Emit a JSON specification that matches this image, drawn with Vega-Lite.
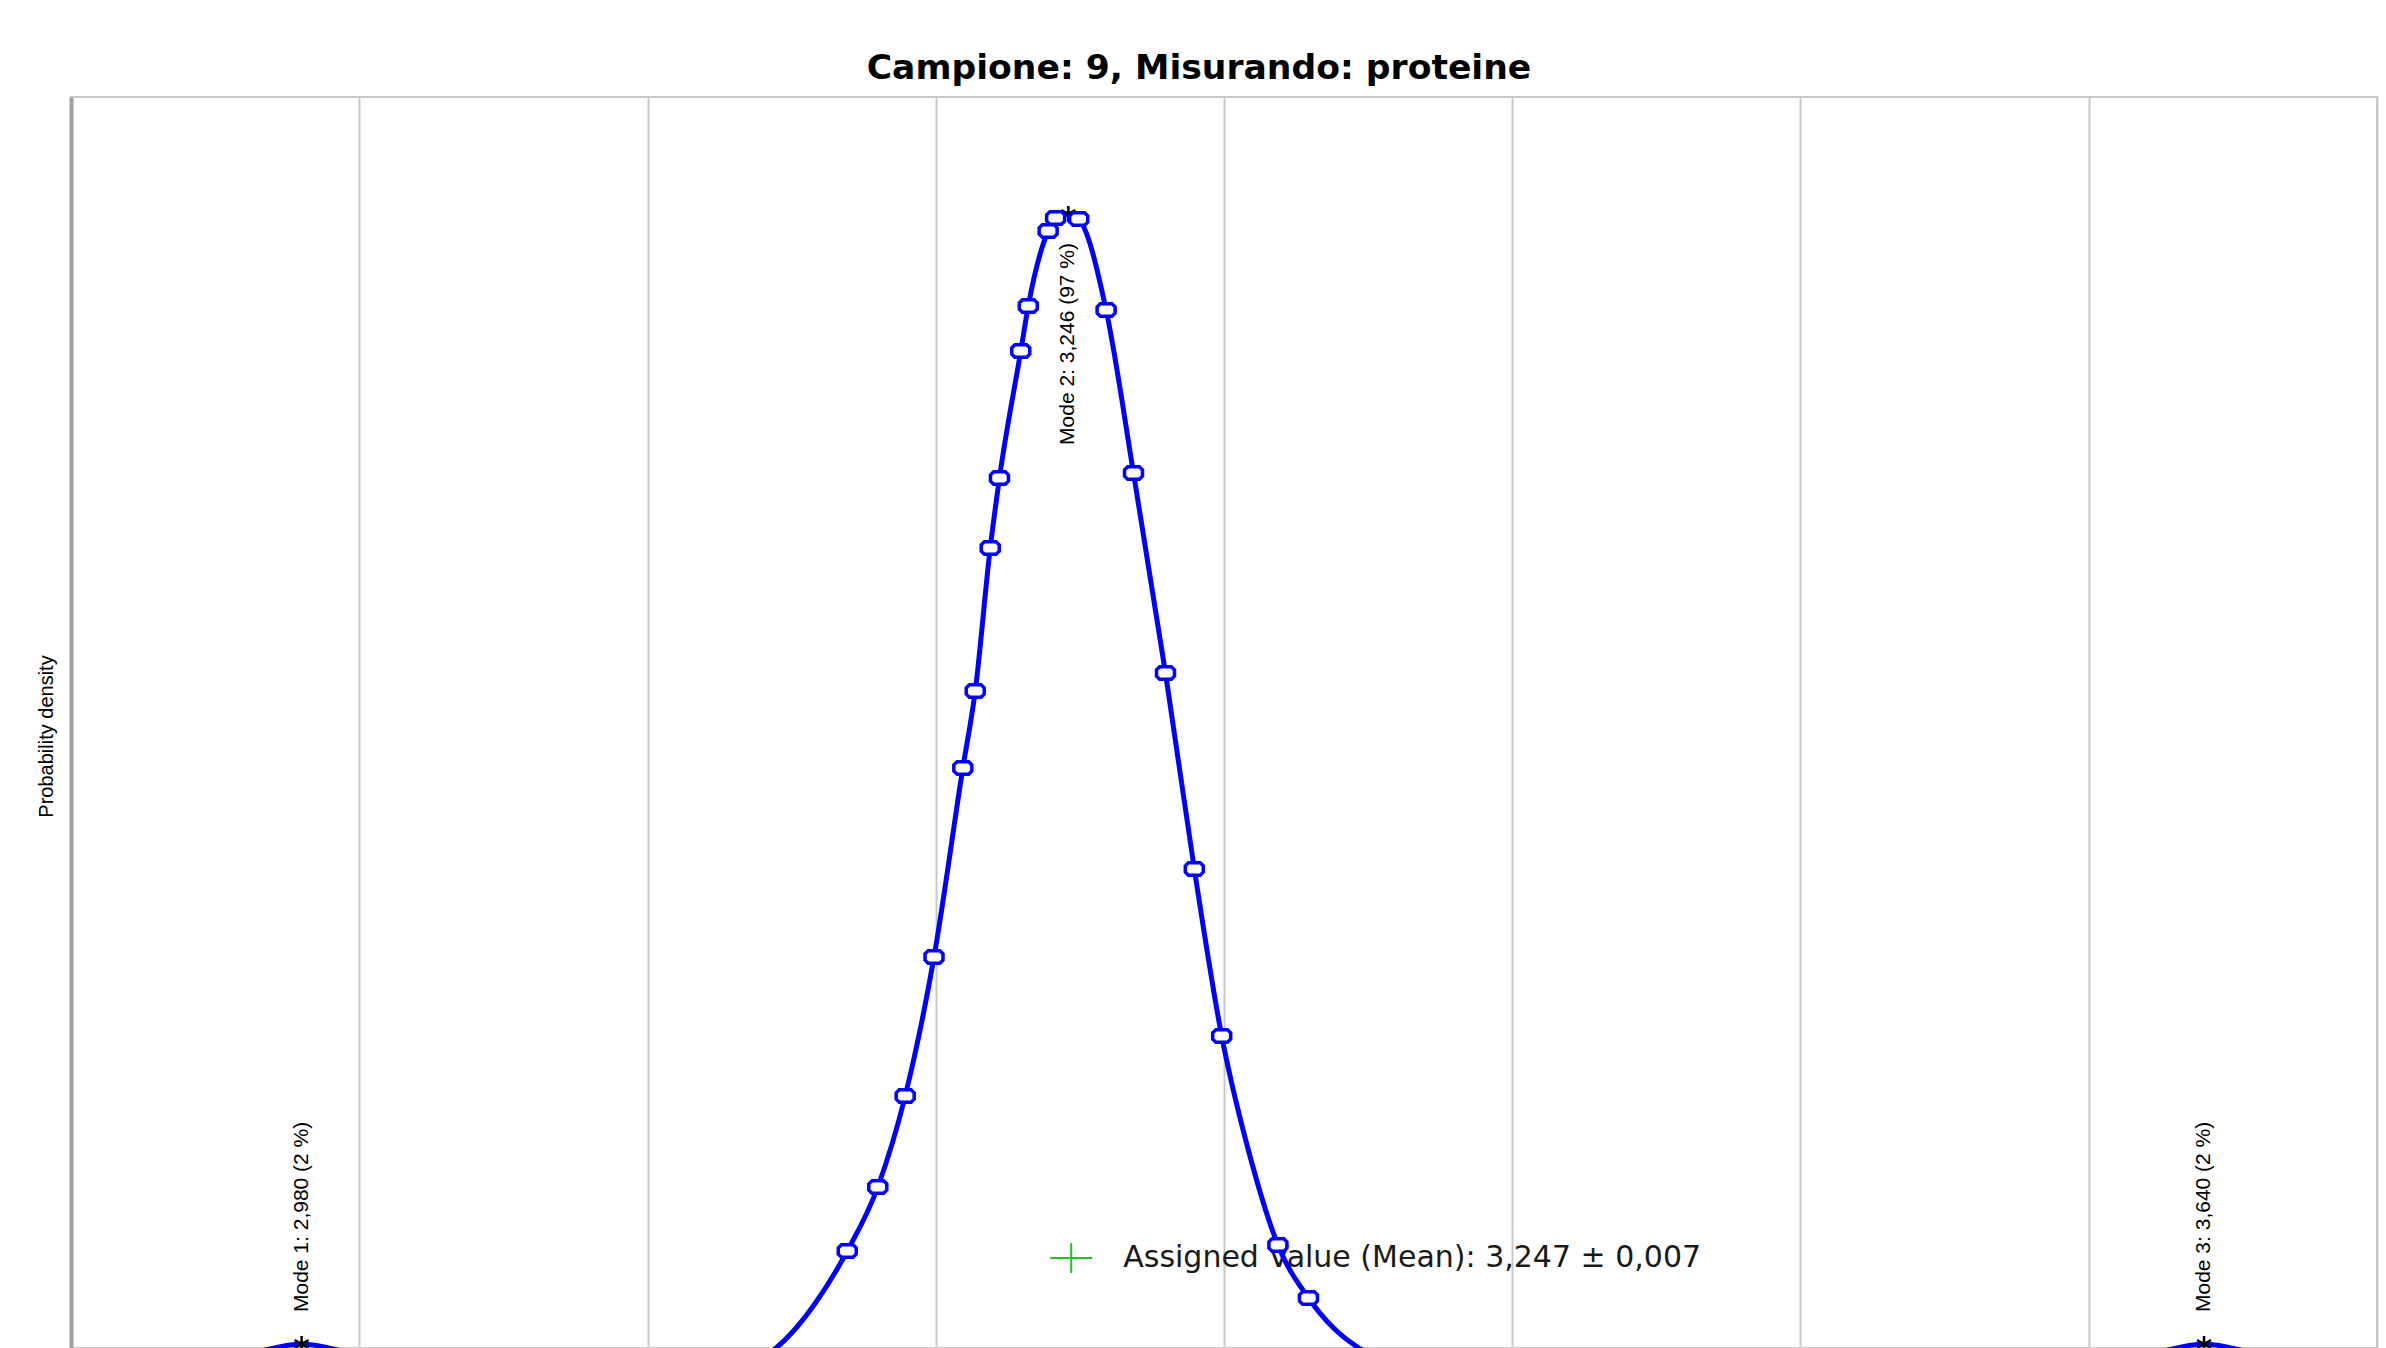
{
  "$schema": "https://vega.github.io/schema/vega-lite/v6.json",
  "autosize": {"type": "none"},
  "padding": {"left": 71, "top": 97, "right": 9, "bottom": 0},
  "width": 2306,
  "height": 1251,
  "background": "white",
  "title": {
    "text": "Campione: 9, Misurando: proteine",
    "font": "DejaVu Sans",
    "fontSize": 34.6,
    "fontWeight": "bold",
    "color": "black",
    "anchor": "middle",
    "dx": -25,
    "dy": 35,
    "offset": 18,
    "baseline": "alphabetic"
  },
  "config": {
    "view": {"stroke": "#c8c8c8", "strokeWidth": 2},
    "axisX": {
      "grid": true, "gridColor": "#c8c8c8", "gridWidth": 2, "gridOpacity": 1,
      "labels": false, "ticks": false, "domain": false, "title": null
    },
    "axisY": {
      "grid": false, "labels": false, "ticks": false,
      "domain": true, "domainColor": "#a0a0a0", "domainWidth": 4,
      "titleFont": "Liberation Sans", "titleFontSize": 20, "titleFontWeight": "normal",
      "titleColor": "black", "titleX": -25, "titleY": 639, "titleAngle": 270,
      "titleAlign": "center", "titleBaseline": "middle"
    }
  },
  "datasets": {
    "curve": [
      {"x": 2.900, "d": 0.00}, {"x": 2.925, "d": 0.01}, {"x": 2.940, "d": 0.04},
      {"x": 2.955, "d": 0.14}, {"x": 2.9675, "d": 0.26}, {"x": 2.980, "d": 0.32},
      {"x": 2.9925, "d": 0.26}, {"x": 3.005, "d": 0.14}, {"x": 3.020, "d": 0.05},
      {"x": 3.040, "d": 0.015}, {"x": 3.070, "d": 0.01}, {"x": 3.095, "d": 0.015},
      {"x": 3.115, "d": 0.03}, {"x": 3.130, "d": 0.07}, {"x": 3.1446, "d": 0.28},
      {"x": 3.150, "d": 0.43}, {"x": 3.158, "d": 0.72}, {"x": 3.1693, "d": 1.25},
      {"x": 3.1799, "d": 1.89}, {"x": 3.1894, "d": 2.80}, {"x": 3.1994, "d": 4.19},
      {"x": 3.2094, "d": 6.08}, {"x": 3.2137, "d": 6.85}, {"x": 3.2189, "d": 8.28},
      {"x": 3.2221, "d": 8.98}, {"x": 3.2295, "d": 10.25}, {"x": 3.2321, "d": 10.70},
      {"x": 3.2390, "d": 11.45}, {"x": 3.2416, "d": 11.58}, {"x": 3.2460, "d": 11.62},
      {"x": 3.2496, "d": 11.57}, {"x": 3.2591, "d": 10.66}, {"x": 3.2686, "d": 9.03},
      {"x": 3.2797, "d": 7.03}, {"x": 3.2897, "d": 5.07}, {"x": 3.2992, "d": 3.40},
      {"x": 3.3090, "d": 2.20}, {"x": 3.3187, "d": 1.31}, {"x": 3.3293, "d": 0.78},
      {"x": 3.3380, "d": 0.48}, {"x": 3.3468, "d": 0.28}, {"x": 3.3600, "d": 0.11},
      {"x": 3.3750, "d": 0.04}, {"x": 3.4000, "d": 0.015}, {"x": 3.4500, "d": 0.01},
      {"x": 3.5200, "d": 0.01}, {"x": 3.5700, "d": 0.015}, {"x": 3.5850, "d": 0.03},
      {"x": 3.600, "d": 0.04}, {"x": 3.615, "d": 0.14}, {"x": 3.6275, "d": 0.26},
      {"x": 3.640, "d": 0.32}, {"x": 3.6525, "d": 0.26}, {"x": 3.665, "d": 0.14},
      {"x": 3.680, "d": 0.04}, {"x": 3.700, "d": 0.01}
    ],
    "markers": [
      {"x": 3.1693, "d": 1.25}, {"x": 3.1799, "d": 1.89}, {"x": 3.1894, "d": 2.80},
      {"x": 3.1994, "d": 4.19}, {"x": 3.2094, "d": 6.08}, {"x": 3.2137, "d": 6.85},
      {"x": 3.2189, "d": 8.28}, {"x": 3.2221, "d": 8.98}, {"x": 3.2295, "d": 10.25},
      {"x": 3.2321, "d": 10.70}, {"x": 3.2390, "d": 11.45}, {"x": 3.2416, "d": 11.58},
      {"x": 3.2496, "d": 11.57}, {"x": 3.2591, "d": 10.66}, {"x": 3.2686, "d": 9.03},
      {"x": 3.2797, "d": 7.03}, {"x": 3.2897, "d": 5.07}, {"x": 3.2992, "d": 3.40},
      {"x": 3.3187, "d": 1.31}, {"x": 3.3293, "d": 0.78}
    ],
    "modes": [
      {"mode": 1, "x": 2.980, "d": 0.32, "label": "Mode 1: 2,980 (2 %)"},
      {"mode": 2, "x": 3.246, "d": 11.62, "label": "Mode 2: 3,246 (97 %)"},
      {"mode": 3, "x": 3.640, "d": 0.32, "label": "Mode 3: 3,640 (2 %)"}
    ],
    "assigned": [
      {"x": 3.247, "d": 1.18, "label": "Assigned Value (Mean): 3,247 ± 0,007"}
    ]
  },
  "encoding": {
    "x": {
      "field": "x", "type": "quantitative",
      "scale": {"domain": [2.9, 3.7], "nice": false, "zero": false},
      "axis": {"values": [2.9, 3.0, 3.1, 3.2, 3.3, 3.4, 3.5, 3.6, 3.7], "title": null}
    },
    "y": {"field": "d", "type": "quantitative", "scale": {"domain": [0.28, 12.79], "nice": false, "zero": false}, "title": "Probability density"}
  },
  "layer": [
    {
      "data": {"name": "assigned"},
      "mark": {"type": "text", "align": "left", "baseline": "middle", "dx": 52, "font": "DejaVu Sans", "fontSize": 30, "color": "#1a1a1a"},
      "encoding": {"text": {"field": "label"}}
    },
    {
      "data": {"name": "assigned"},
      "mark": {"type": "point", "shape": "M-1,0L1,0M0,-0.72L0,0.72", "filled": false, "stroke": "#22c322", "strokeWidth": 2, "size": 1764, "opacity": 1}
    },
    {
      "data": {"name": "curve"},
      "mark": {"type": "line", "interpolate": "monotone", "color": "#0000ff", "strokeWidth": 5, "clip": true}
    },
    {
      "data": {"name": "modes"},
      "mark": {"type": "point", "shape": "M0,-1L0,1M-0.87,-0.5L0.87,0.5M-0.87,0.5L0.87,-0.5", "filled": false, "stroke": "black", "strokeWidth": 2.5, "size": 256, "opacity": 1}
    },
    {
      "data": {"name": "markers"},
      "mark": {"type": "point", "shape": "M-0.65,-0.7L0.65,-0.7L1,-0.35L1,0.35L0.65,0.7L-0.65,0.7L-1,0.35L-1,-0.35Z", "filled": true, "fill": "white", "stroke": "#0000ff", "strokeWidth": 3.5, "size": 324, "opacity": 1, "clip": true}
    },
    {
      "data": {"name": "modes"},
      "transform": [{"filter": "datum.mode != 2"}],
      "mark": {"type": "text", "angle": 270, "align": "left", "baseline": "middle", "dx": 32, "font": "Liberation Sans", "fontSize": 21, "color": "black"},
      "encoding": {"text": {"field": "label"}}
    },
    {
      "data": {"name": "modes"},
      "transform": [{"filter": "datum.mode == 2"}],
      "mark": {"type": "text", "angle": 270, "align": "right", "baseline": "middle", "dx": -29, "font": "Liberation Sans", "fontSize": 21, "color": "black"},
      "encoding": {"text": {"field": "label"}}
    }
  ]
}
